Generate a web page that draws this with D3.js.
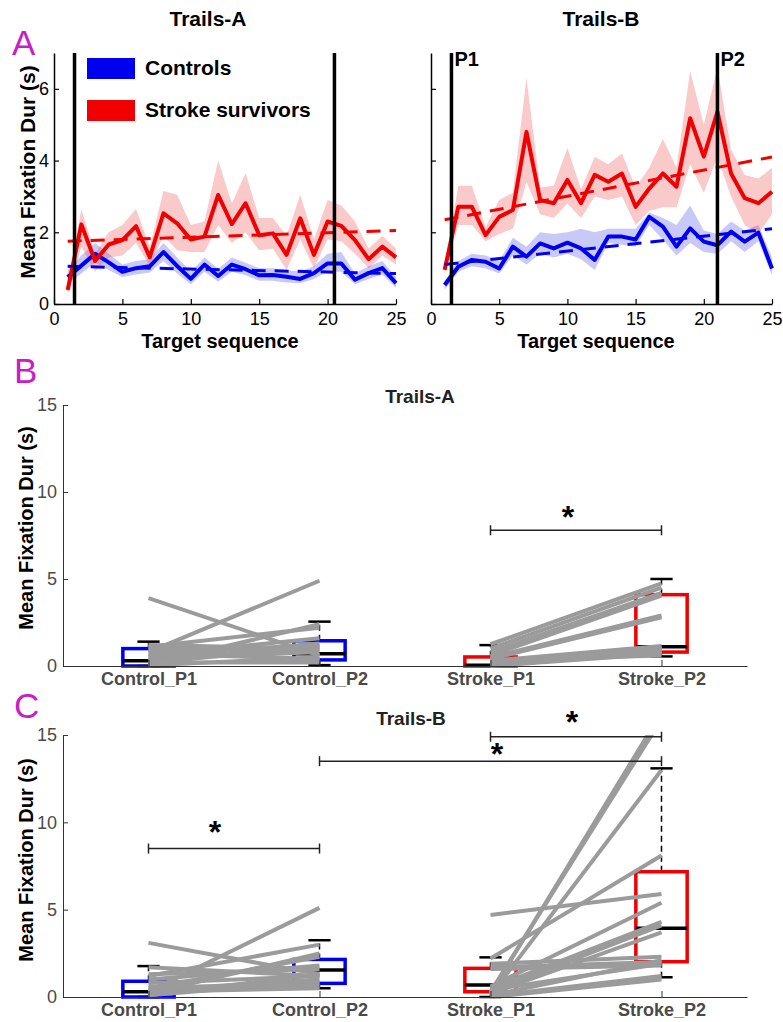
<!DOCTYPE html>
<html>
<head>
<meta charset="utf-8">
<script src="https://cdn.jsdelivr.net/npm/d3@7"></script>
<style>
  body { margin: 0; background: #fff; }
  text { font-family: "Liberation Sans", Arial, Helvetica, sans-serif; }
</style>
</head>
<body>
<svg id="fig" width="783" height="1022"></svg>
<script>
// ---- data: panel A (mean fixation duration per target, with error band) ----
var seq = d3.range(1, 26);
var seqTicks = [0, 5, 10, 15, 20, 25];
var durTicksA = [0, 2, 4, 6];

var taCtrl   = [0.75,1.07,1.40,1.16,0.90,1.00,1.05,1.45,1.06,0.70,1.10,0.78,1.10,0.97,0.80,0.81,0.76,0.70,0.86,1.13,1.13,0.68,0.86,1.00,0.58];
var taCtrlLo = [0.55,0.85,1.15,0.95,0.75,0.82,0.88,1.20,0.85,0.55,0.90,0.62,0.90,0.80,0.65,0.65,0.60,0.58,0.70,0.90,0.90,0.55,0.70,0.82,0.45];
var taCtrlHi = [0.95,1.35,1.70,1.40,1.10,1.20,1.25,1.70,1.30,0.90,1.30,0.98,1.30,1.15,1.00,1.00,0.95,0.90,1.05,1.40,1.45,0.85,1.05,1.20,0.75];
var taStroke   = [0.39,2.22,1.20,1.66,1.78,2.17,1.30,2.53,2.25,1.80,1.88,3.04,2.23,2.81,1.92,1.97,1.37,2.39,1.37,2.30,2.18,1.78,1.25,1.60,1.30];
var taStrokeLo = [0.25,1.60,0.90,1.30,1.35,1.70,1.05,1.90,1.50,1.45,1.45,2.20,1.70,2.00,1.50,1.55,0.95,1.80,1.00,1.80,1.75,1.40,1.00,1.35,1.10];
var taStrokeHi = [0.50,2.65,1.40,2.00,2.20,2.65,1.60,3.15,3.05,2.20,2.30,4.00,2.80,3.65,2.40,2.40,1.90,3.05,1.80,2.90,2.75,2.30,1.55,1.90,1.55];

var tbCtrl   = [0.53,1.04,1.23,1.18,0.99,1.60,1.32,1.69,1.55,1.71,1.55,1.23,1.88,1.88,1.80,2.43,2.16,1.60,2.11,1.74,1.64,2.02,1.74,1.99,0.99];
var tbCtrlLo = [0.40,0.90,1.05,1.00,0.85,1.35,1.10,1.40,1.30,1.40,1.25,0.95,1.70,1.65,1.60,2.20,1.80,1.35,1.70,1.45,1.40,1.75,1.45,1.75,0.80];
var tbCtrlHi = [0.65,1.20,1.40,1.35,1.20,1.85,1.60,2.00,1.95,2.00,2.10,2.00,2.10,2.10,2.10,2.55,2.40,2.20,2.75,2.05,1.95,2.30,2.05,2.20,1.30];
var tbStroke   = [0.95,2.71,2.71,1.92,2.43,2.62,4.80,2.90,2.81,3.46,2.81,3.60,3.41,3.64,2.71,3.22,3.64,3.27,5.18,4.11,5.36,3.64,2.95,2.81,3.13];
var tbStrokeLo = [0.85,2.20,2.20,1.75,1.95,2.10,3.40,2.50,2.40,2.80,2.40,3.00,2.90,3.00,2.20,2.60,2.70,2.70,3.90,3.10,4.10,3.00,2.20,1.95,2.50];
var tbStrokeHi = [1.05,3.30,3.30,2.15,2.90,3.10,6.30,3.25,3.30,4.35,3.20,4.10,3.90,4.20,3.25,3.80,4.60,3.80,6.50,5.00,6.60,4.30,3.60,3.50,3.80];

// linear fits, value at x = 1 and x = 25
var fitX = [1, 25];
var taCtrlFit = [1.05, 0.85];
var taStrokeFit = [1.75, 2.05];
var tbCtrlFit = [1.10, 2.10];
var tbStrokeFit = [2.35, 4.10];

var markA = [1.5, 20.5];
var markB = [1.5, 21];

// ---- data: panels B and C (paired P1 -> P2 values and box stats) ----
var groups = ['Control_P1', 'Control_P2', 'Stroke_P1', 'Stroke_P2'];
var durTicks = [0, 5, 10, 15];

var bCtrlP1 = [3.9, 0.8, 0.1, 1.1, 0.5, 0.3, 1.0, 0.05, 0.6, 0.9, 0.4, 1.2, 0.2, 0.7, 0.15];
var bCtrlP2 = [0.6, 4.9, 2.4, 2.2, 1.3, 1.1, 0.9, 0.5, 1.6, 0.3, 0.8, 1.0, 0.2, 0.4, 1.2];
var bStrokeP1 = [1.25, 1.0, 0.8, 0.6, 0.5, 0.4, 0.3, 0.2, 0.15, 0.1, 0.05, 0.0, 0.3, 0.1, 0.2];
var bStrokeP2 = [4.75, 4.5, 4.2, 4.05, 2.9, 2.8, 1.15, 1.05, 1.0, 0.9, 0.8, 0.7, 0.6, 0.95, 0.75];
var bLo  = [0.00, 0.05, 0.00, 0.55];
var bQ1  = [0.00, 0.35, 0.00, 0.80];
var bMed = [0.30, 0.70, 0.05, 1.10];
var bQ3  = [1.00, 1.45, 0.52, 4.10];
var bHi  = [1.40, 2.55, 1.20, 5.00];

var cCtrlP1 = [3.1, 0.3, 1.2, 0.2, 1.0, 0.5, 1.3, 0.1, 0.8, 0.4, 0.2, 1.7, 0.6, 0.3, 0.1];
var cCtrlP2 = [1.3, 5.1, 3.0, 2.5, 1.8, 2.3, 1.6, 1.3, 1.2, 1.0, 0.8, 1.2, 0.6, 0.5, 0.9];
var cStrokeP1 = [0.2, 0.3, 0.1, 4.7, 2.2, 1.9, 1.7, 1.6, 0.6, 0.5, 0.3, 0.2, 0.1, 0.05, 0.0, 0.4];
var cStrokeP2 = [16.3, 15.9, 13.0, 5.9, 8.1, 2.3, 2.0, 1.8, 5.4, 4.3, 4.1, 3.7, 2.1, 1.2, 1.0, 1.9];
var cLo  = [0.00, 0.50, 0.00, 1.13];
var cQ1  = [0.00, 0.78, 0.30, 2.02];
var cMed = [0.30, 1.55, 0.69, 3.93];
var cQ3  = [0.90, 2.15, 1.64, 7.17];
var cHi  = [1.77, 3.25, 2.27, 13.09];

// significance bars: [from group, to group, height]
var bSig = [[3, 4, 7.8]];
var cSig = [[1, 2, 8.5], [3, 4, 14.9], [2, 4, 13.5]];

var BLUE = '#0000f0', RED = '#f00000', GREY = '#9b9b9b', MAGENTA = '#c81ec8';

var svg = d3.select('#fig');

function panelLetter(txt, x, y) {
    svg.append('text').attr('x', x).attr('y', y)
        .attr('font-size', 35).attr('fill', MAGENTA).text(txt);
}

function vLabel(txt, x, y, size) {
    svg.append('text')
        .attr('transform', 'translate(' + x + ',' + y + ') rotate(-90)')
        .attr('text-anchor', 'middle').attr('font-size', size)
        .attr('font-weight', 'bold').text(txt);
}

function boldText(txt, x, y, size, fill) {
    return svg.append('text').attr('x', x).attr('y', y)
        .attr('text-anchor', 'middle').attr('font-size', size)
        .attr('font-weight', 'bold').attr('fill', fill || '#000').text(txt);
}

// ---------------- panel A ----------------
var yA = d3.scaleLinear().domain([0, 7]).range([304, 53]);

function seqPanel(x0, x1, series, marks, withLabels) {
    var x = d3.scaleLinear().domain([0, 25]).range([x0, x1]);
    var g = svg.append('g');

    var area = d3.area()
        .x(function (d) { return x(d.i); })
        .y0(function (d) { return yA(d.lo); })
        .y1(function (d) { return yA(d.hi); });
    var line = d3.line()
        .x(function (d) { return x(d.i); })
        .y(function (d) { return yA(d.v); });

    series.forEach(function (s) {
        var pts = seq.map(function (i, k) { return {i: i, lo: s.lo[k], hi: s.hi[k]}; });
        g.append('path').datum(pts).attr('d', area)
            .attr('fill', s.band).attr('stroke', 'none');
    });
    series.forEach(function (s) {
        var pts = seq.map(function (i, k) { return {i: i, v: s.mean[k]}; });
        g.append('path').datum(pts).attr('d', line)
            .attr('fill', 'none').attr('stroke', s.color)
            .attr('stroke-width', 4).attr('stroke-linejoin', 'round');
    });
    series.forEach(function (s) {
        var pts = fitX.map(function (i, k) { return {i: i, v: s.fit[k]}; });
        g.append('path').datum(pts).attr('d', line)
            .attr('fill', 'none').attr('stroke', s.color)
            .attr('stroke-width', 3).attr('stroke-dasharray', '14,9');
    });

    marks.forEach(function (m) {
        g.append('line')
            .attr('x1', x(m)).attr('x2', x(m))
            .attr('y1', yA(0)).attr('y2', yA(7))
            .attr('stroke', '#000').attr('stroke-width', 3.5);
    });

    var ax = g.append('g').attr('transform', 'translate(0,' + yA(0) + ')')
        .call(d3.axisBottom(x).tickValues(seqTicks)
            .tickSizeInner(-5).tickSizeOuter(0).tickPadding(8));
    var ay = g.append('g').attr('transform', 'translate(' + x0 + ',0)')
        .call(d3.axisLeft(yA).tickValues(durTicksA)
            .tickSizeInner(-5).tickSizeOuter(0).tickPadding(5)
            .tickFormat(withLabels ? d3.format('d') : ''));
    [ax, ay].forEach(function (a) {
        a.attr('font-size', 18).attr('font-family', null).attr('color', '#000');
        a.select('.domain').attr('stroke-width', 1.5);
        a.selectAll('.tick line').attr('stroke-width', 1.2);
    });
    return x;
}

var xA1 = seqPanel(54, 396, [
    {mean: taCtrl, lo: taCtrlLo, hi: taCtrlHi, fit: taCtrlFit, color: BLUE, band: 'rgba(40,40,225,0.25)'},
    {mean: taStroke, lo: taStrokeLo, hi: taStrokeHi, fit: taStrokeFit, color: RED, band: 'rgba(238,60,60,0.28)'}
], markA, true);
var xA2 = seqPanel(431, 772, [
    {mean: tbCtrl, lo: tbCtrlLo, hi: tbCtrlHi, fit: tbCtrlFit, color: BLUE, band: 'rgba(40,40,225,0.25)'},
    {mean: tbStroke, lo: tbStrokeLo, hi: tbStrokeHi, fit: tbStrokeFit, color: RED, band: 'rgba(238,60,60,0.28)'}
], markB, false);

boldText('Trails-A', 208, 26, 21);
boldText('Trails-B', 601, 26, 21);
boldText('Target sequence', 220, 348, 20);
boldText('Target sequence', 596, 348, 20);
vLabel('Mean Fixation Dur (s)', 35, 172, 21);
panelLetter('A', 12, 55);

svg.append('text').attr('x', xA2(markB[0]) + 3).attr('y', 66)
    .attr('font-size', 20).attr('font-weight', 'bold').text('P1');
svg.append('text').attr('x', xA2(markB[1]) + 3).attr('y', 66)
    .attr('font-size', 20).attr('font-weight', 'bold').text('P2');

// legend
var legend = [{name: 'Controls', color: BLUE}, {name: 'Stroke survivors', color: RED}];
legend.forEach(function (d, k) {
    svg.append('rect').attr('x', 87).attr('y', 58 + k * 42)
        .attr('width', 48).attr('height', 21).attr('fill', d.color);
    svg.append('text').attr('x', 145).attr('y', 75 + k * 42)
        .attr('font-size', 21).attr('font-weight', 'bold').text(d.name);
});

// ---------------- panels B and C ----------------
var xG = d3.scaleLinear().domain([0.5, 4.5]).range([63, 747]);

function pairPanel(y0, y1, pairs, stats, sigs, clipId) {
    var y = d3.scaleLinear().domain([0, 15]).range([y0, y1]);
    var g = svg.append('g');
    var half = xG(1.15) - xG(1);
    var cap = xG(1.065) - xG(1);

    // boxes
    groups.forEach(function (name, k) {
        var xc = xG(k + 1);
        var col = k < 2 ? BLUE : RED;
        g.append('line').attr('x1', xc).attr('x2', xc)
            .attr('y1', y(stats.q3[k])).attr('y2', y(stats.hi[k]))
            .attr('stroke', '#000').attr('stroke-width', 1.5).attr('stroke-dasharray', '6,4');
        g.append('line').attr('x1', xc).attr('x2', xc)
            .attr('y1', y(stats.q1[k])).attr('y2', y(stats.lo[k]))
            .attr('stroke', '#000').attr('stroke-width', 1.5).attr('stroke-dasharray', '6,4');
        [stats.hi[k], stats.lo[k]].forEach(function (v) {
            g.append('line').attr('x1', xc - cap).attr('x2', xc + cap)
                .attr('y1', y(v)).attr('y2', y(v))
                .attr('stroke', '#000').attr('stroke-width', 2.5);
        });
        g.append('rect').attr('x', xc - half).attr('width', 2 * half)
            .attr('y', y(stats.q3[k])).attr('height', y(stats.q1[k]) - y(stats.q3[k]))
            .attr('fill', 'none').attr('stroke', col).attr('stroke-width', 3.5);
        g.append('line').attr('x1', xc - half).attr('x2', xc + half)
            .attr('y1', y(stats.med[k])).attr('y2', y(stats.med[k]))
            .attr('stroke', '#000').attr('stroke-width', 3.5);
    });

    // paired subject lines, clipped to the axes
    svg.append('clipPath').attr('id', clipId).append('rect')
        .attr('x', xG(0.5)).attr('y', y(15))
        .attr('width', xG(4.5) - xG(0.5)).attr('height', y(0) - y(15) + 2);
    var lines = g.append('g').attr('clip-path', 'url(#' + clipId + ')');
    pairs.forEach(function (p) {
        p.a.forEach(function (v, k) {
            lines.append('line')
                .attr('x1', xG(p.from)).attr('y1', y(v))
                .attr('x2', xG(p.from + 1)).attr('y2', y(p.b[k]))
                .attr('stroke', GREY).attr('stroke-width', 4);
        });
    });

    // axes
    var ax = g.append('g').attr('transform', 'translate(0,' + y(0) + ')')
        .call(d3.axisBottom(xG).tickValues([1, 2, 3, 4])
            .tickFormat(function (d) { return groups[d - 1]; })
            .tickSizeInner(-6).tickSizeOuter(0).tickPadding(6));
    ax.selectAll('.tick text').attr('font-weight', 'bold');
    var ay = g.append('g').attr('transform', 'translate(' + xG(0.5) + ',0)')
        .call(d3.axisLeft(y).tickValues(durTicks)
            .tickSizeInner(-5).tickSizeOuter(0).tickPadding(6));
    [ax, ay].forEach(function (a) {
        a.attr('font-size', 18).attr('font-family', null).attr('color', '#333');
        a.selectAll('.tick text').attr('fill', '#4a4a4a');
    });

    // significance bars
    sigs.forEach(function (s) {
        var xa = xG(s[0]), xb = xG(s[1]), ys = y(s[2]);
        g.append('line').attr('x1', xa).attr('x2', xb).attr('y1', ys).attr('y2', ys)
            .attr('stroke', '#222').attr('stroke-width', 1.5);
        [xa, xb].forEach(function (xe) {
            g.append('line').attr('x1', xe).attr('x2', xe).attr('y1', ys - 5).attr('y2', ys + 5)
                .attr('stroke', '#222').attr('stroke-width', 1.5);
        });
    });
    return y;
}

var yB = pairPanel(666, 405, [
    {from: 1, a: bCtrlP1, b: bCtrlP2},
    {from: 3, a: bStrokeP1, b: bStrokeP2}
], {lo: bLo, q1: bQ1, med: bMed, q3: bQ3, hi: bHi}, bSig, 'clipB');

var yC = pairPanel(997, 735, [
    {from: 1, a: cCtrlP1, b: cCtrlP2},
    {from: 3, a: cStrokeP1, b: cStrokeP2}
], {lo: cLo, q1: cQ1, med: cMed, q3: cQ3, hi: cHi}, cSig, 'clipC');

// stars over the significance bars
function star(x, y) {
    svg.append('text').attr('x', x).attr('y', y + 15)
        .attr('text-anchor', 'middle').attr('font-size', 32)
        .attr('font-weight', 'bold').text('*');
}
star(568, 513);
star(215, 828);
star(572, 718);
star(497, 750);

boldText('Trails-A', 420, 403, 19, '#222');
boldText('Trails-B', 411, 725, 19, '#222');
vLabel('Mean Fixation Dur (s)', 33, 528, 20);
vLabel('Mean Fixation Dur (s)', 33, 860, 20);
panelLetter('B', 14, 383);
panelLetter('C', 14, 718);
</script>
</body>
</html>
